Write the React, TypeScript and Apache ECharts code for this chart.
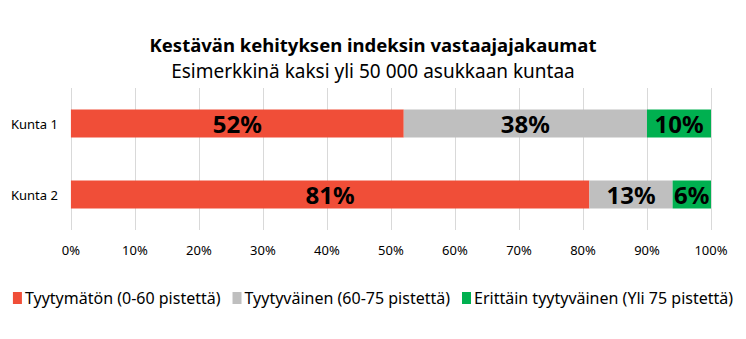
import React, { useEffect, useRef } from "react";
import * as echarts from "echarts";

const categories = ["Kunta 1", "Kunta 2"];
const seriesNames = [
  "Tyytymätön (0-60 pistettä)",
  "Tyytyväinen (60-75 pistettä)",
  "Erittäin tyytyväinen (Yli 75 pistettä)",
];
const tyytymaton = [52, 81];
const tyytyvainen = [38, 13];
const erittain = [10, 6];
const colors = ["#F04E38", "#BFBFBF", "#00B050"];

const FONT = "'Noto Sans', sans-serif";

export default function App() {
  const ref = useRef<HTMLDivElement>(null);
  useEffect(() => {
    if (!ref.current) return;
    const chart = echarts.init(ref.current, undefined, { renderer: "svg" });
    const values = [tyytymaton, tyytyvainen, erittain];
    chart.setOption({
      animation: false,
      textStyle: { fontFamily: FONT },
      title: {
        text: "Kestävän kehityksen indeksin vastaajajakaumat",
        subtext: "Esimerkkinä kaksi yli 50 000 asukkaan kuntaa",
        left: "center",
        top: 22,
        itemGap: 7,
        textStyle: { fontFamily: FONT, fontSize: 18.5, fontWeight: "bold", color: "#000" },
        subtextStyle: { fontFamily: FONT, fontSize: 19, color: "#000" },
      },
      legend: {
        bottom: 25,
        left: "center",
        width: 730,
        padding: 0,
        itemWidth: 9,
        itemHeight: 12,
        itemGap: 12,
        icon: "rect",
        textStyle: { fontFamily: FONT, fontSize: 16, color: "#000", padding: [0, 0, 0, -2] },
        data: seriesNames,
      },
      grid: { left: 62, right: 27, top: 80, bottom: 101, containLabel: false },
      xAxis: {
        type: "value",
        min: 0,
        max: 100,
        interval: 10,
        axisLabel: { formatter: "{value}%", fontSize: 13, color: "#000", margin: 13, fontFamily: FONT },
        axisLine: { show: false },
        axisTick: { show: false },
        splitLine: { lineStyle: { color: "#D9D9D9", width: 1 } },
      },
      yAxis: {
        type: "category",
        data: categories,
        inverse: true,
        axisLine: { show: false },
        axisTick: { show: false },
        axisLabel: { fontSize: 13, color: "#000", margin: 13, fontFamily: FONT },
      },
      series: seriesNames.map((name, i) => ({
        name,
        type: "bar",
        stack: "total",
        barWidth: 28,
        itemStyle: { color: colors[i] },
        label: {
          show: true,
          position: "inside",
          formatter: "{c}%",
          fontSize: 24,
          fontWeight: "bold",
          color: "#000",
          fontFamily: FONT,
        },
        data: values[i],
      })),
    });
    return () => chart.dispose();
  }, []);
  return <div ref={ref} style={{ width: 730, height: 323 }} />;
}
